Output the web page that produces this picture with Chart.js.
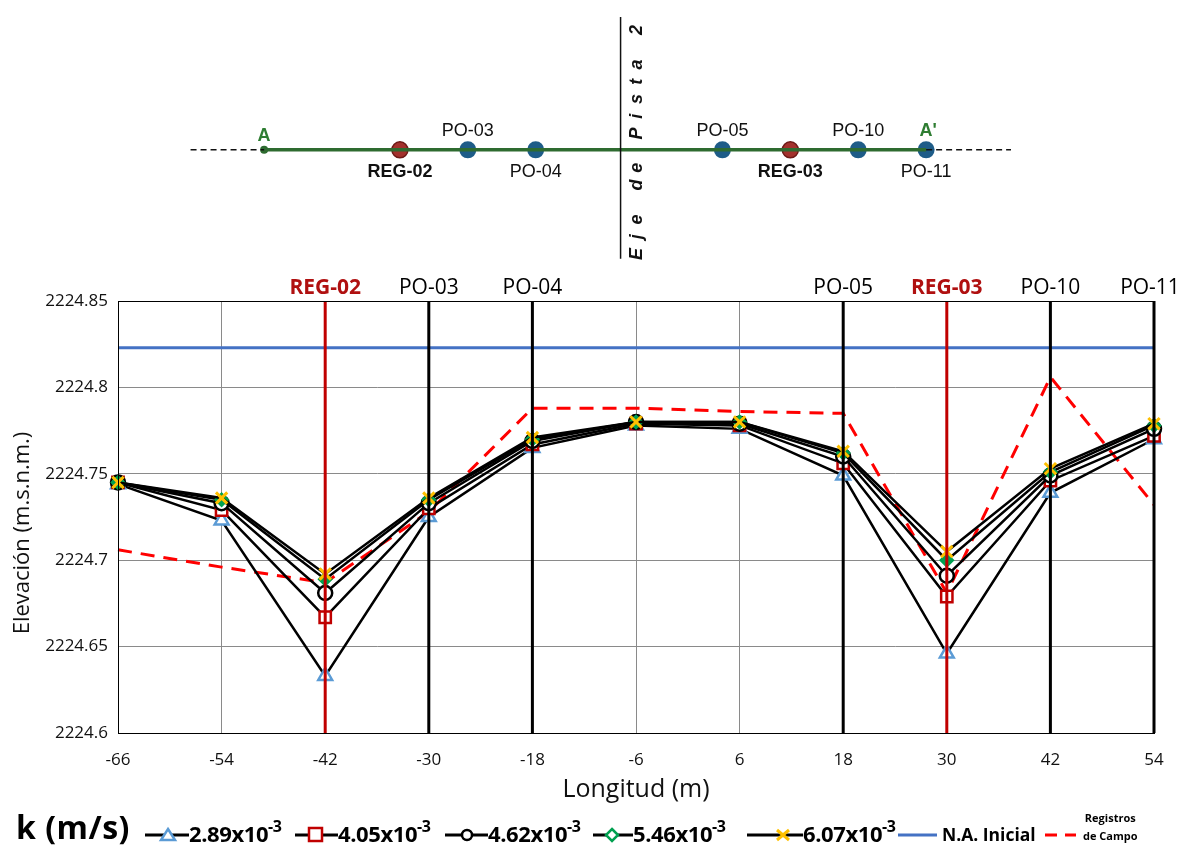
<!DOCTYPE html>
<html>
<head>
<meta charset="utf-8">
<script src="https://cdn.jsdelivr.net/npm/chart.js@4.4.1/dist/chart.umd.min.js"></script>
<style>
    body { margin: 0; background: #fff; width: 1190px; height: 852px; position: relative; overflow: hidden; }
    #schemCanvas { position: absolute; left: 0; top: 0; }
    #mainCanvas { position: absolute; left: 0; top: 0; }
    .lg { position: absolute; top: 812px; height: 40px; font-family: "Open Sans", sans-serif; font-weight: bold; color: #000; }
    .lg svg { position: absolute; top: 11px; }
    .lg span { position: absolute; white-space: nowrap; }
    .num { font-size: 22px; top: 5px; letter-spacing: -0.4px; }
    .num sup { font-size: 16px; position: relative; top: -2px; }
</style>
</head>
<body>
<canvas id="schemCanvas" width="1190" height="270"></canvas>
<canvas id="mainCanvas" width="1190" height="852"></canvas>
<div id="legend"></div>
<script>
// ---- data ----
const longitud = ["-66", "-54", "-42", "-30", "-18", "-6", "6", "18", "30", "42", "54"];
const k289 = [2224.744, 2224.723, 2224.633, 2224.725, 2224.765, 2224.778, 2224.776, 2224.749, 2224.646, 2224.739, 2224.770];
const k405 = [2224.745, 2224.729, 2224.667, 2224.730, 2224.767, 2224.779, 2224.778, 2224.756, 2224.679, 2224.746, 2224.772];
const k462 = [2224.745, 2224.733, 2224.681, 2224.733, 2224.769, 2224.780, 2224.779, 2224.760, 2224.691, 2224.749, 2224.776];
const k546 = [2224.745, 2224.735, 2224.689, 2224.735, 2224.770, 2224.780, 2224.780, 2224.762, 2224.700, 2224.751, 2224.778];
const k607 = [2224.745, 2224.736, 2224.692, 2224.736, 2224.771, 2224.780, 2224.780, 2224.763, 2224.705, 2224.753, 2224.779];
const naInicial = [2224.823, 2224.823, 2224.823, 2224.823, 2224.823, 2224.823, 2224.823, 2224.823, 2224.823, 2224.823, 2224.823];
const registrosCampo = [2224.706, 2224.696, 2224.687, 2224.728, 2224.788, 2224.788, 2224.786, 2224.785, 2224.681, 2224.806, 2224.732];

// wells marked over the profile
const pozos = ["REG-02", "PO-03", "PO-04", "PO-05", "REG-03", "PO-10", "PO-11"];
const pozoEnLongitud = ["-42", "-30", "-18", "18", "30", "42", "54"];

// plan view (schematic, m along section A-A')
const planNames = ["REG-02", "PO-03", "PO-04", "PO-05", "REG-03", "PO-10", "PO-11"];
const planPos = [-39, -27, -15, 18, 30, 42, 54];
const planSide = ["below", "above", "below", "above", "below", "above", "below"];
const planStart = -63;
const planEnd = 54;

const yTicks = [2224.6, 2224.65, 2224.7, 2224.75, 2224.8, 2224.85];

const FONT = "'Open Sans', sans-serif";
const ARIAL = "'Liberation Sans', Arial, sans-serif";

// ---- plan view ----
const isRegPlan = n => n.indexOf("REG") === 0;
const planPlugin = {
    id: "planLabels",
    afterDatasetsDraw(chart) {
        const ctx = chart.ctx;
        const xs = chart.scales.x, ys = chart.scales.y;
        const y0 = ys.getPixelForValue(0);
        ctx.save();
        ctx.textAlign = "center";
        ctx.textBaseline = "alphabetic";
        planNames.forEach((n, i) => {
            const px = xs.getPixelForValue(planPos[i]);
            ctx.fillStyle = "#111";
            ctx.font = (isRegPlan(n) ? "bold " : "") + "18px " + ARIAL;
            ctx.fillText(n, px, planSide[i] === "above" ? y0 - 14 : y0 + 27);
        });
        ctx.fillStyle = "#2E7D32";
        ctx.font = "bold 18px " + ARIAL;
        ctx.fillText("A", xs.getPixelForValue(planStart), y0 - 9);
        ctx.fillText("A'", xs.getPixelForValue(planEnd) + 2, y0 - 14);

        // vertical axis label "Eje de Pista 2"
        const label = "Eje de Pista 2";
        const cx = xs.getPixelForValue(0) + 16;
        const yStart = 254, yEnd = 30;
        const step = (yStart - yEnd) / (label.length - 1);
        ctx.fillStyle = "#111";
        ctx.font = "italic bold 18px " + ARIAL;
        ctx.textBaseline = "middle";
        for (let i = 0; i < label.length; i++) {
            if (label[i] === " ") continue;
            ctx.save();
            ctx.translate(cx, yStart - i * step);
            ctx.rotate(-Math.PI / 2);
            ctx.fillText(label[i], 0, 0);
            ctx.restore();
        }
        ctx.restore();
    }
};

new Chart(document.getElementById("schemCanvas"), {
    type: "scatter",
    data: {
        datasets: [
            {
                data: [{ x: 0, y: 143 }, { x: 0, y: -117 }],
                showLine: true, borderColor: "#111", borderWidth: 1.5, pointRadius: 0,
            },
            {
                data: [{ x: planStart - 13, y: 0 }, { x: planStart, y: 0 }],
                showLine: true, borderColor: "#111", borderWidth: 1.5, borderDash: [6, 4], pointRadius: 0,
            },
            {
                data: [{ x: planEnd, y: 0 }, { x: planEnd + 15, y: 0 }],
                showLine: true, borderColor: "#111", borderWidth: 1.5, borderDash: [6, 4], pointRadius: 0,
            },
            {
                data: [{ x: planStart, y: 0 }, { x: planEnd, y: 0 }],
                showLine: true, borderColor: "#2E6B30", borderWidth: 3.5,
                pointRadius: [4, 0], pointBackgroundColor: "#2E6B30", pointBorderWidth: 0,
            },
            {
                data: planPos.filter((p, i) => !isRegPlan(planNames[i])).map(p => ({ x: p, y: 0 })),
                pointRadius: 8.5, pointBackgroundColor: "#1E5C88", pointBorderColor: "#1E5C88", pointBorderWidth: 0,
            },
            {
                data: planPos.filter((p, i) => isRegPlan(planNames[i])).map(p => ({ x: p, y: 0 })),
                pointRadius: 8, pointBackgroundColor: "#A3312D", pointBorderColor: "#6E1A17", pointBorderWidth: 1.5,
            },
        ],
    },
    options: {
        responsive: false,
        animation: false,
        events: [],
        layout: { padding: 0 },
        plugins: { legend: { display: false }, tooltip: { enabled: false } },
        scales: {
            x: { type: "linear", min: -108, max: 98.96, display: false },
            y: { type: "linear", min: -119, max: 151, display: false },
        },
    },
    plugins: [planPlugin],
});

// ---- main profile chart ----
const wellPlugin = {
    id: "wellLines",
    afterDatasetsDraw(chart) {
        const ctx = chart.ctx;
        const xs = chart.scales.x;
        const area = chart.chartArea;
        ctx.save();
        pozos.forEach((p, i) => {
            const px = xs.getPixelForValue(longitud.indexOf(pozoEnLongitud[i]));
            const isReg = p.indexOf("REG") === 0;
            ctx.strokeStyle = isReg ? "#C00000" : "#000";
            ctx.lineWidth = 3;
            ctx.beginPath();
            ctx.moveTo(px, area.top);
            ctx.lineTo(px, area.bottom);
            ctx.stroke();
            ctx.fillStyle = isReg ? "#B01010" : "#000";
            ctx.font = (isReg ? "bold " : "") + "21px " + FONT;
            ctx.textAlign = "center";
            ctx.textBaseline = "alphabetic";
            ctx.fillText(p, Math.min(px, 1190 - 40), area.top - 7);
        });
        // plot frame
        ctx.strokeStyle = "#000";
        ctx.lineWidth = 1;
        ctx.strokeRect(area.left + 0.5, area.top + 0.5, area.right - area.left - 1, area.bottom - area.top);

        // y axis title
        ctx.fillStyle = "#111";
        ctx.font = "22px " + FONT;
        ctx.textAlign = "center";
        ctx.textBaseline = "middle";
        ctx.translate(23, 533);
        ctx.rotate(-Math.PI / 2);
        ctx.fillText("Elevación (m.s.n.m.)", 0, 0);
        ctx.restore();
    }
};

const serie = (data, opts) => Object.assign({
    data: data,
    borderColor: "#000",
    borderWidth: 2.5,
    pointBackgroundColor: "#fff",
    pointBorderWidth: 2.5,
    tension: 0,
}, opts);

new Chart(document.getElementById("mainCanvas"), {
    type: "line",
    data: {
        labels: longitud,
        datasets: [
            serie(registrosCampo, { label: "Registros de Campo", borderColor: "#FF0000", borderWidth: 3, borderDash: [14, 9], pointRadius: 0, order: 7 }),
            serie(naInicial, { label: "N.A. Inicial", borderColor: "#4472C4", borderWidth: 3, pointRadius: 0, order: 6 }),
            serie(k289, { label: "2.89x10-3", pointStyle: "triangle", pointRadius: 8, pointBorderColor: "#5B9BD5", order: 5 }),
            serie(k405, { label: "4.05x10-3", pointStyle: "rect", pointRadius: 8, pointBorderColor: "#C00000", order: 4 }),
            serie(k462, { label: "4.62x10-3", pointStyle: "circle", pointRadius: 7, pointBorderColor: "#000", order: 3 }),
            serie(k546, { label: "5.46x10-3", pointStyle: "rectRot", pointRadius: 6, pointBackgroundColor: "#00A050", pointBorderColor: "#00A050", order: 2 }),
            serie(k607, { label: "6.07x10-3", pointStyle: "crossRot", pointRadius: 8, pointBorderWidth: 3, pointBorderColor: "#FFC000", order: 1 }),
        ],
    },
    options: {
        responsive: false,
        animation: false,
        events: [],
        layout: { padding: { left: 0, right: 36, top: 301, bottom: 45 } },
        plugins: { legend: { display: false }, tooltip: { enabled: false } },
        scales: {
            x: {
                type: "category",
                offset: false,
                afterFit: s => { s.height = 74; },
                grid: { color: "#8a8a8a", lineWidth: 1, drawTicks: false },
                border: { color: "#000" },
                ticks: { color: "#111", font: { family: FONT, size: 17 }, padding: 17, maxRotation: 0 },
                title: { display: true, text: "Longitud (m)", color: "#111", font: { family: FONT, size: 25 }, padding: { top: 4, bottom: 2 } },
            },
            y: {
                type: "linear",
                min: 2224.6,
                max: 2224.85,
                afterFit: s => { s.width = 118; },
                afterBuildTicks: s => { s.ticks = yTicks.map(v => ({ value: v })); },
                grid: { color: "#8a8a8a", lineWidth: 1, drawTicks: false },
                border: { color: "#000" },
                ticks: {
                    color: "#111",
                    font: { family: FONT, size: 17 },
                    padding: 10,
                    callback: v => parseFloat(v.toFixed(2)).toString(),
                },
                title: { display: false },
            },
        },
    },
    plugins: [wellPlugin],
});

// ---- legend ----
const legendItems = [
    { x: 145, txt: 189, val: "2.89x10", mark: '<path d="M23 6 L30 17 L16 17 Z" fill="#fff" stroke="#5B9BD5" stroke-width="2.5"/>' },
    { x: 295, txt: 338, val: "4.05x10", mark: '<rect x="14" y="5" width="13" height="13" fill="#fff" stroke="#C00000" stroke-width="2.5"/>' },
    { x: 445, txt: 488, val: "4.62x10", mark: '<circle cx="22" cy="12" r="5" fill="#fff" stroke="#000" stroke-width="2.5"/>' },
    { x: 593, txt: 633, val: "5.46x10", mark: '<path d="M19 6 L25 12 L19 18 L13 12 Z" fill="#fff" stroke="#00A050" stroke-width="2.5"/>' },
    { x: 747, txt: 803, val: "6.07x10", mark: '<path d="M30 7 L42 17 M42 7 L30 17" stroke="#FFC000" stroke-width="3"/>' },
];
let html = '<div class="lg" style="left:16px;top:805px"><span style="font-size:32px;top:0px;letter-spacing:0.5px">k (m/s)</span></div>';
legendItems.forEach(it => {
    const w = it.txt - it.x;
    html += '<div class="lg" style="left:' + it.x + 'px">' +
        '<svg width="' + w + '" height="24"><line x1="0" y1="12" x2="' + w + '" y2="12" stroke="#000" stroke-width="3"/>' + it.mark + '</svg>' +
        '<span class="num" style="left:' + w + 'px">' + it.val + '<sup>-3</sup></span></div>';
});
html += '<div class="lg" style="left:898px"><svg width="40" height="24"><line x1="0" y1="12" x2="39" y2="12" stroke="#4472C4" stroke-width="3"/></svg>' +
    '<span style="left:44px;top:10px;font-size:17.5px">N.A. Inicial</span></div>';
html += '<div class="lg" style="left:1045px"><svg width="32" height="24"><line x1="0" y1="12" x2="31" y2="12" stroke="#FF0000" stroke-width="3" stroke-dasharray="12,8"/></svg>' +
    '<span style="left:38px;top:-3px;font-size:11px;line-height:18px;text-align:center">Registros<br>de Campo</span></div>';
document.getElementById("legend").innerHTML = html;
</script>
</body>
</html>
